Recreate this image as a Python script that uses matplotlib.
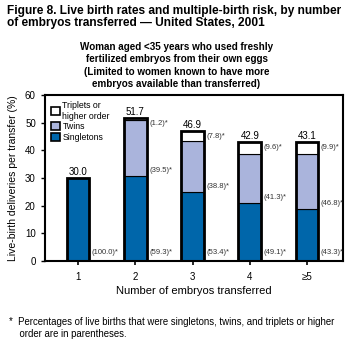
import numpy as np
import matplotlib
matplotlib.use('Agg')
import matplotlib.pyplot as plt
from matplotlib.patches import Patch

plt.rcParams['font.family'] = ['Liberation Sans', 'DejaVu Sans']

categories = ['1', '2', '3', '4', '≥5']
totals = [30.0, 51.7, 46.9, 42.9, 43.1]
pct_single = [100.0, 59.3, 53.4, 49.1, 43.3]
pct_twins = [0.0, 39.5, 38.8, 41.3, 46.8]
pct_triplets = [0.0, 1.2, 7.8, 9.6, 9.9]

blue = '#0066aa'
lav = '#aab4dc'

x = np.arange(1, 6)
tot = np.array(totals)
single = tot * np.array(pct_single) / 100
twins = tot * np.array(pct_twins) / 100
trip = tot - single - twins

fig = plt.figure(figsize=(3.53, 3.42), dpi=100)
ax = fig.add_axes([0.127, 0.237, 0.845, 0.485])

w = 0.40
ax.bar(x, single, w, color=blue, edgecolor='black', linewidth=0.8, zorder=2)
ax.bar(x[1:], twins[1:], w, bottom=single[1:], color=lav, edgecolor='black', linewidth=0.8, zorder=2)
ax.bar(x[1:], trip[1:], w, bottom=(single + twins)[1:], color='white', edgecolor='black', linewidth=0.8, zorder=2)
# thick outline around whole bar
ax.bar(x, tot, w, fill=False, edgecolor='black', linewidth=2, zorder=3)

fs = 5.5
for i in range(5):
    ax.text(x[i], tot[i] + 0.4, f'{totals[i]:.1f}', ha='center', va='bottom', fontsize=7)
    xr = x[i] + w / 2 + 0.04
    ax.text(xr, 2.9, f'({pct_single[i]:.1f})*', fontsize=fs, va='center', ha='left', color='#333333')
    if i > 0:
        ax.text(xr, single[i] + 2, f'({pct_twins[i]:.1f})*', fontsize=fs, va='center', ha='left', color='#333333')
        ax.text(xr, tot[i] - 2, f'({pct_triplets[i]:.1f})*', fontsize=fs, va='center', ha='left', color='#333333')

ax.set_xlim(0.42, 5.63)
ax.set_ylim(0, 60)
ax.set_yticks(range(0, 61, 10))
ax.set_xticks(x)
ax.set_xticklabels(categories, fontsize=7)
ax.tick_params(axis='y', labelsize=7, length=3, width=1)
ax.tick_params(axis='x', length=3, width=1.2, pad=5)
for s in ax.spines.values():
    s.set_linewidth(1.5)

ax.set_ylabel('Live-birth deliveries per transfer (%)', fontsize=7.5, labelpad=5)
ax.set_xlabel('Number of embryos transferred', fontsize=8, labelpad=3)

handles = [Patch(facecolor='white', edgecolor='black', linewidth=1.2, label='Triplets or\nhigher order'),
           Patch(facecolor=lav, edgecolor='black', linewidth=1.2, label='Twins'),
           Patch(facecolor=blue, edgecolor='black', linewidth=1.2, label='Singletons')]
ax.legend(handles=handles, loc='upper left', frameon=False, fontsize=6.3,
          handlelength=1.0, handleheight=1.0, handletextpad=0.3, labelspacing=0.2,
          borderaxespad=0.3, bbox_to_anchor=(0.0, 1.0))

fig.text(0.02, 0.985, 'Figure 8. Live birth rates and multiple-birth risk, by number\nof embryos transferred \u2014 United States, 2001',
         fontsize=8.6, fontweight='bold', va='top', ha='left', linespacing=1.0)
fig.text(0.5, 0.877, 'Woman aged <35 years who used freshly\nfertilized embryos from their own eggs\n(Limited to women known to have more\nembryos available than transferred)',
         fontsize=7.1, fontweight='bold', va='top', ha='center', linespacing=1.3)
fig.text(0.025, 0.072, '*  Percentages of live births that were singletons, twins, and triplets or higher\n    order are in parentheses.',
         fontsize=6.9, va='top', ha='left', linespacing=1.15)

fig.savefig('out.png', dpi=100)
